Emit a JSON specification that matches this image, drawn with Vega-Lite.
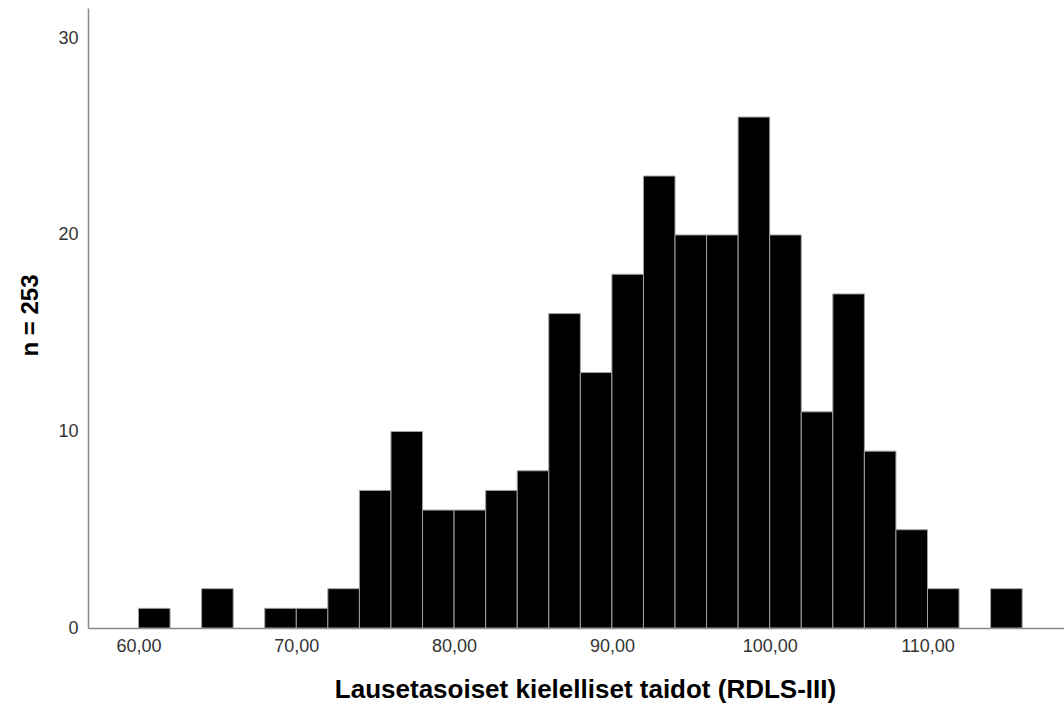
{
  "$schema": "https://vega.github.io/schema/vega-lite/v6.json",
  "width": 976,
  "height": 620,
  "autosize": {"type": "none"},
  "padding": {"left": 88, "top": 8, "right": 0, "bottom": 81},
  "background": "white",
  "config": {
    "view": {"stroke": null},
    "font": "Liberation Sans"
  },
  "data": {
    "values": [
      {"bin_start": 60, "bin_end": 62, "count": 1},
      {"bin_start": 64, "bin_end": 66, "count": 2},
      {"bin_start": 68, "bin_end": 70, "count": 1},
      {"bin_start": 70, "bin_end": 72, "count": 1},
      {"bin_start": 72, "bin_end": 74, "count": 2},
      {"bin_start": 74, "bin_end": 76, "count": 7},
      {"bin_start": 76, "bin_end": 78, "count": 10},
      {"bin_start": 78, "bin_end": 80, "count": 6},
      {"bin_start": 80, "bin_end": 82, "count": 6},
      {"bin_start": 82, "bin_end": 84, "count": 7},
      {"bin_start": 84, "bin_end": 86, "count": 8},
      {"bin_start": 86, "bin_end": 88, "count": 16},
      {"bin_start": 88, "bin_end": 90, "count": 13},
      {"bin_start": 90, "bin_end": 92, "count": 18},
      {"bin_start": 92, "bin_end": 94, "count": 23},
      {"bin_start": 94, "bin_end": 96, "count": 20},
      {"bin_start": 96, "bin_end": 98, "count": 20},
      {"bin_start": 98, "bin_end": 100, "count": 26},
      {"bin_start": 100, "bin_end": 102, "count": 20},
      {"bin_start": 102, "bin_end": 104, "count": 11},
      {"bin_start": 104, "bin_end": 106, "count": 17},
      {"bin_start": 106, "bin_end": 108, "count": 9},
      {"bin_start": 108, "bin_end": 110, "count": 5},
      {"bin_start": 110, "bin_end": 112, "count": 2},
      {"bin_start": 114, "bin_end": 116, "count": 2}
    ]
  },
  "mark": {"type": "bar", "color": "black", "stroke": "#a0a0a0", "strokeWidth": 1},
  "encoding": {
    "x": {
      "field": "bin_start",
      "type": "quantitative",
      "scale": {"domain": [56.8, 118.65], "nice": false, "zero": false},
      "axis": {
        "values": [60, 70, 80, 90, 100, 110],
        "labelExpr": "replace(format(datum.value, '.2f'), '.', ',')",
        "grid": false,
        "ticks": false,
        "domainColor": "#888888",
        "domainWidth": 1.5,
        "labelFontSize": 18,
        "labelColor": "#333333",
        "labelPadding": 9,
        "labelFlush": false,
        "title": "Lausetasoiset kielelliset taidot (RDLS-III)",
        "titleFontSize": 26,
        "titleFontWeight": "bold",
        "titleColor": "#000000",
        "titlePadding": 21,
        "titleX": 497
      }
    },
    "x2": {"field": "bin_end"},
    "y": {
      "field": "count",
      "type": "quantitative",
      "scale": {"domain": [0, 31.55], "nice": false},
      "axis": {
        "values": [0, 10, 20, 30],
        "grid": false,
        "ticks": false,
        "domainColor": "#888888",
        "domainWidth": 1.5,
        "labelFontSize": 18,
        "labelColor": "#333333",
        "labelPadding": 10,
        "title": "n = 253",
        "titleFontSize": 24,
        "titleFontWeight": "bold",
        "titleColor": "#000000",
        "titlePadding": 15,
        "titleY": 307
      }
    },
    "y2": {"datum": 0}
  }
}
